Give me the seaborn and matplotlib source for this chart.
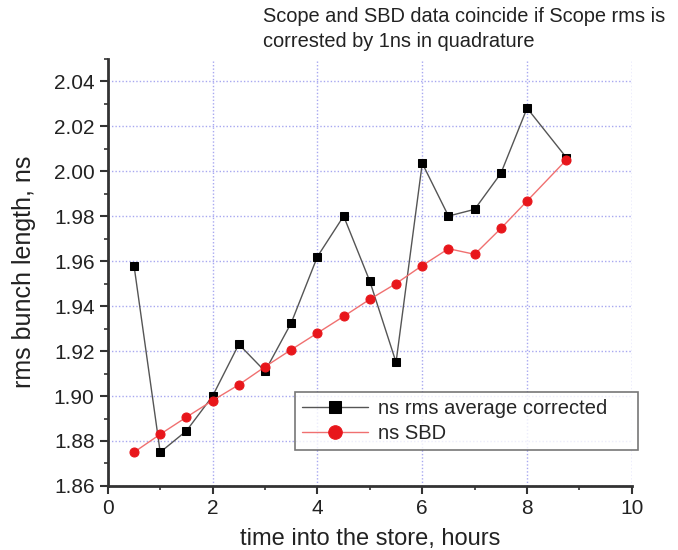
import matplotlib
matplotlib.use("Agg")
import matplotlib.pyplot as plt
import seaborn as sns
import pandas as pd
from matplotlib.ticker import MultipleLocator

hours = [0.5, 1.0, 1.5, 2.0, 2.5, 3.0, 3.5, 4.0, 4.5, 5.0, 5.5, 6.0, 6.5, 7.0, 7.5, 8.0, 8.75]
scope_corrected = [1.958, 1.875, 1.8845, 1.900, 1.923, 1.911, 1.9325, 1.962, 1.980, 1.951,
                   1.915, 2.0035, 1.980, 1.983, 1.999, 2.028, 2.006]
sbd = [1.875, 1.883, 1.8906, 1.898, 1.905, 1.913, 1.9206, 1.928, 1.9354, 1.943,
       1.950, 1.958, 1.9655, 1.963, 1.9745, 1.9867, 2.005]
series_names = ["ns rms average corrected", "ns SBD"]

sns.set_style("white")
plt.rcParams['font.family'] = ['Liberation Sans', 'DejaVu Sans']

df = pd.DataFrame({
    "hours": hours * 2,
    "value": scope_corrected + sbd,
    "series": [series_names[0]] * len(hours) + [series_names[1]] * len(hours),
})

fig = plt.figure(figsize=(6.78, 5.50), dpi=100)
ax = fig.add_axes([0.159, 0.1164, 0.773, 0.777])

sns.lineplot(data=df[df.series == series_names[0]], x="hours", y="value", ax=ax,
             color="#555555", lw=1.0, marker="s", markersize=5.5,
             markerfacecolor="black", markeredgecolor="black", label=series_names[0])
sns.lineplot(data=df[df.series == series_names[1]], x="hours", y="value", ax=ax,
             color="#f07070", lw=1.0, marker="o", markersize=6.5,
             markerfacecolor="#e8161b", markeredgecolor="#e8161b", label=series_names[1])

ax.set_xlim(0, 10)
ax.set_ylim(1.86, 2.05)
ax.xaxis.set_major_locator(MultipleLocator(2))
ax.xaxis.set_minor_locator(MultipleLocator(1))
ax.yaxis.set_minor_locator(MultipleLocator(0.01))
ax.set_yticks([1.86 + 0.02 * i for i in range(10)])
ax.set_yticklabels([f"{1.86 + 0.02 * i:.2f}" for i in range(10)])

ax.grid(True, which="major", color="#a8a8f0", linestyle=(0, (1, 1.5)), lw=1.0)
ax.set_axisbelow(True)

for s in ["top", "right"]:
    ax.spines[s].set_visible(False)
for s in ["left", "bottom"]:
    ax.spines[s].set_color("#333333")
    ax.spines[s].set_linewidth(2.0)

ax.tick_params(axis="both", which="major", direction="out", length=6, width=1.5,
               labelsize=15, colors="#333333", labelcolor="#222222", bottom=True, left=True)
ax.tick_params(axis="both", which="minor", direction="out", length=3, width=1.2,
               colors="#333333", bottom=True, left=True)

ax.set_xlabel("time into the store, hours", fontsize=17, color="#222222", labelpad=7)
ax.set_ylabel("rms bunch length, ns", fontsize=18, color="#222222", labelpad=13)

fig.text(0.388, 0.988, "Scope and SBD data coincide if Scope rms is\ncorrested by 1ns in quadrature",
         fontsize=14.4, color="#222222", ha="left", va="top", linespacing=1.4)

leg = ax.legend(loc="upper left", bbox_to_anchor=(0.357, 0.0, 0.655, 0.22), mode="expand",
                borderaxespad=0.0, fontsize=14.5,
                frameon=True, fancybox=False, edgecolor="#555555",
                handlelength=3.3, handletextpad=0.5, borderpad=0.35, labelspacing=0.3,
                markerscale=1.5)
leg.get_frame().set_linewidth(1.2)

fig.savefig("out.png", dpi=100)
